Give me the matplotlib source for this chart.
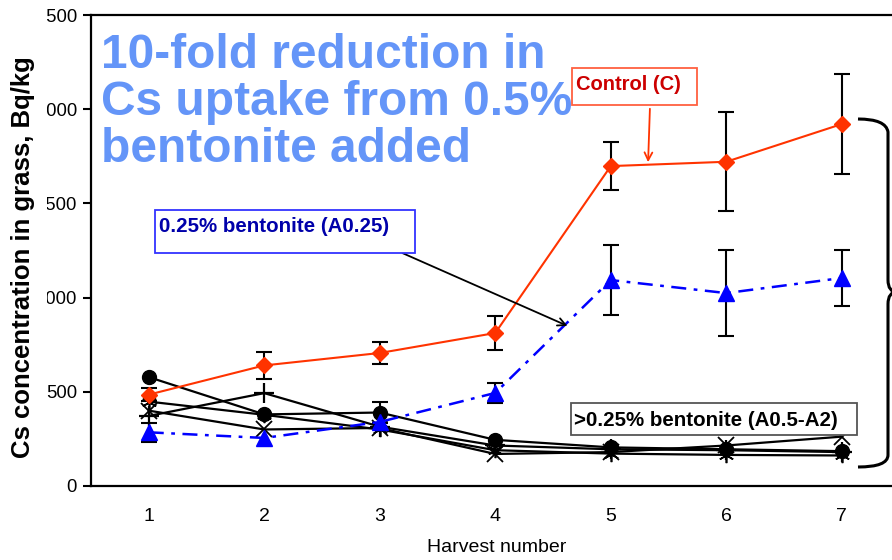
import numpy as np
import matplotlib
matplotlib.use("Agg")
import matplotlib.pyplot as plt
from matplotlib.patches import Rectangle, PathPatch, FancyArrowPatch
from matplotlib.path import Path
from matplotlib.transforms import Bbox

# ---- data -------------------------------------------------------------
harvest = [1, 2, 3, 4, 5, 6, 7]

control = [485, 640, 706, 812, 1698, 1721, 1921]
control_err = [35, 70, 60, 90, 127, 263, 266]

bent_025 = [285, 255, 340, 494, 1093, 1024, 1104]
bent_025_err = [50, 0, 0, 55, 185, 230, 146]

# treatments with more than 0.25 % bentonite (A0.5 - A2)
a_circle = [578, 380, 390, 245, 205, 195, 185]
a_circle_err = [0, 0, 55, 0, 0, 0, 0]
a_plus = [372, 493, 315, 215, 195, 190, 180]
a_cross = [400, 300, 308, 170, 180, 215, 262]
a_star = [448, 378, 300, 190, 172, 165, 162]

y_ticks = [0, 500, 1000, 1500, 2000, 2500]

# ---- figure -----------------------------------------------------------
W, H = 892, 560
fig = plt.figure(figsize=(W / 100, H / 100), dpi=100)
plt.rcParams['font.family'] = ['Liberation Sans', 'DejaVu Sans']


def fx(x):
    return x / W


def fy(y):
    return 1 - y / H


ax = fig.add_axes([fx(91), fy(486), 808.5 / W, 471 / H])
ax.set_xlim(0.5, 7.5)
ax.set_ylim(0, 2500)

ax.spines['right'].set_visible(False)
for s in ['left', 'bottom', 'top']:
    ax.spines[s].set_linewidth(1.6)
    ax.spines[s].set_color('black')

ax.set_xticks(harvest)
ax.set_yticks(y_ticks)
ax.tick_params(axis='x', length=0, pad=16, labelsize=14)
ax.tick_params(axis='y', direction='out', length=6, width=1.5, pad=4,
               labelsize=13.3)

ebkw = dict(ecolor='black', elinewidth=1.5, capsize=6, capthick=1.5)


def with_nan(err):
    return [e if e > 0 else np.nan for e in err]


# black series
black_kw = dict(color='black', lw=1.6, zorder=3)
ax.plot(harvest, a_plus, marker='+', ms=14, mew=1.6, **black_kw)
ax.plot(harvest, a_cross, marker='x', ms=11, mew=1.3, **black_kw)
ax.plot(harvest, a_star, marker=(6, 2, 0), ms=11, mew=1.2, **black_kw)
ax.errorbar(harvest, a_circle, yerr=with_nan(a_circle_err), marker='o',
            ms=10, color='black', lw=1.6, zorder=4, **ebkw)

# 0.25 % bentonite
ax.errorbar(harvest, bent_025, yerr=with_nan(bent_025_err), marker='^',
            ms=12, color='#0000FF', mec='#0000FF', lw=1.8,
            linestyle=(0, (6, 3, 1.5, 3)), zorder=5, **ebkw)

# control
ax.errorbar(harvest, control, yerr=control_err, marker='D', ms=8.5,
            color='#FF3300', mec='#FF3300', lw=1.5, zorder=6, **ebkw)

# axis labels
ax.set_ylabel('Cs concentration in grass, Bq/kg', fontsize=18.5,
              fontweight='bold')
ax.yaxis.set_label_coords(-0.0695, 0.485)
ax.set_xlabel('Harvest number', fontsize=14)
ax.xaxis.set_label_coords(0.502, -0.112)

# headline
fig.text(fx(101), fy(33), '10-fold reduction in\nCs uptake from 0.5%\nbentonite added',
         ha='left', va='top', fontsize=34.5, fontweight='bold',
         color='#6495F8', linespacing=1.05)


# labelled boxes
def box(x0, y0, x1, y1, edge):
    fig.add_artist(Rectangle((fx(x0), fy(y1)), fx(x1 - x0), (y1 - y0) / H,
                             transform=fig.transFigure, fill=True,
                             facecolor='white', edgecolor=edge, lw=1.3,
                             zorder=10))


box(572, 68, 697, 105, '#FF6040')
fig.text(fx(576), fy(84), 'Control (C)', ha='left', va='center',
         fontsize=14.5, fontweight='bold', color='#CC0000', zorder=11)

box(155, 210, 415, 253, '#3333FF')
fig.text(fx(159), fy(227), '0.25% bentonite (A0.25)', ha='left',
         va='center', fontsize=14.8, fontweight='bold', color='#0000AA',
         zorder=11)

box(571, 403, 857, 435, '#555555')
fig.text(fx(574), fy(420), '>0.25% bentonite (A0.5-A2)', ha='left',
         va='center', fontsize=14.8, fontweight='bold', color='black',
         zorder=11)

# pointer arrows
fig.add_artist(FancyArrowPatch((fx(650), fy(106)), (fx(648), fy(165)),
                               transform=fig.transFigure, arrowstyle='->',
                               mutation_scale=14, color='#FF3300', lw=1.3,
                               zorder=9))
fig.add_artist(FancyArrowPatch((fx(400), fy(252)), (fx(570), fy(327)),
                               transform=fig.transFigure, arrowstyle='->',
                               mutation_scale=14, color='black', lw=1.3,
                               zorder=9))

# right-hand brace grouping the upper series
pts = [(858, 119), (886, 119), (888, 132), (888, 280), (888, 292), (897, 292),
       (888, 292), (888, 304), (888, 455), (888, 467), (858, 467)]
codes = [Path.MOVETO, Path.CURVE3, Path.CURVE3, Path.LINETO, Path.CURVE3,
         Path.CURVE3, Path.CURVE3, Path.CURVE3, Path.LINETO, Path.CURVE3,
         Path.CURVE3]
brace = Path([(fx(x), fy(y)) for x, y in pts], codes)
fig.add_artist(PathPatch(brace, transform=fig.transFigure, fill=False,
                         lw=2.2, edgecolor='black', zorder=9))

# the y tick labels run off the left edge of the panel
clip = Bbox.from_extents(47, 0, W, H)
for lbl in ax.get_yticklabels():
    lbl.set_clip_box(clip)
    lbl.set_clip_on(True)

fig.savefig('out.png', dpi=100)
